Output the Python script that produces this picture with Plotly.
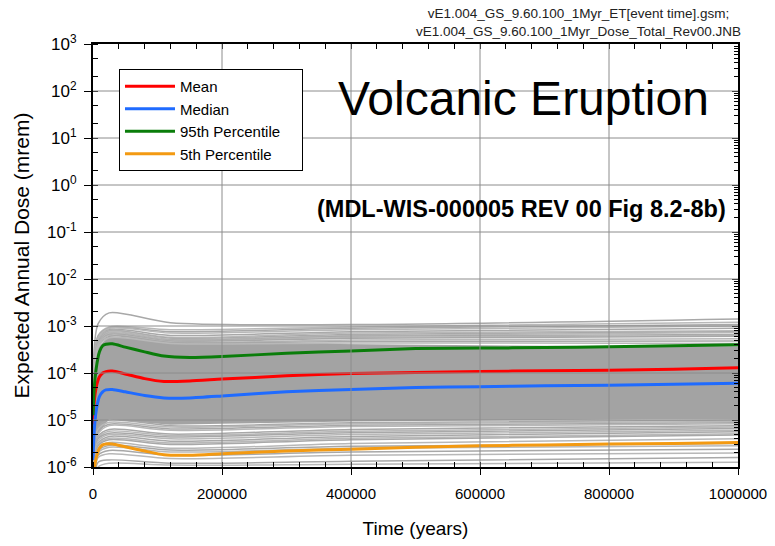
import plotly.graph_objects as go

# ---------------- data (log10 of dose in mrem) ----------------
T_PCT = [0, 2000, 5000, 10000, 15000, 20000, 30000, 50000, 80000, 110000, 150000,
         200000, 300000, 400000, 500000, 600000, 700000, 800000, 900000, 1000000]
MEAN_LOG = [-5.10, -4.60, -4.30, -4.08, -4.00, -3.97, -3.96, -4.02, -4.12, -4.18, -4.17,
            -4.13, -4.06, -4.01, -3.99, -3.97, -3.95, -3.94, -3.92, -3.89]
MEDIAN_LOG = [-5.85, -5.20, -4.80, -4.50, -4.40, -4.36, -4.35, -4.40, -4.48, -4.53, -4.53,
              -4.49, -4.40, -4.35, -4.31, -4.29, -4.27, -4.26, -4.24, -4.22]
P95_LOG = [-4.90, -4.30, -3.90, -3.55, -3.42, -3.39, -3.38, -3.45, -3.55, -3.64, -3.67,
           -3.65, -3.58, -3.53, -3.48, -3.47, -3.46, -3.44, -3.42, -3.40]
P05_LOG = [-6.40, -6.05, -5.80, -5.60, -5.53, -5.51, -5.51, -5.57, -5.66, -5.74, -5.75,
           -5.72, -5.66, -5.62, -5.58, -5.55, -5.53, -5.51, -5.50, -5.48]

# dense core of the realizations (upper / lower edge)
T_BAND = [0, 3000, 8000, 25000, 60000, 120000, 200000, 400000, 700000, 1000000]
BAND_TOP_LOG = [-4.95, -3.90, -3.45, -3.22, -3.25, -3.36, -3.36, -3.39, -3.42, -3.43]
BAND_BOT_LOG = [-6.30, -5.90, -5.30, -4.98, -5.03, -5.10, -5.08, -5.03, -5.00, -4.98]

# individual realizations outside the dense core
T_REAL = [0, 8000, 25000, 120000, 400000, 1000000]
REAL_LOG = [
    [-4.00, -2.95, -2.72, -2.93, -2.97, -2.85],
    [-4.20, -3.20, -3.02, -3.08, -3.02, -2.92],
    [-4.25, -3.22, -3.04, -3.12, -3.05, -2.97],
    [-4.30, -3.25, -3.05, -3.15, -3.08, -3.00],
    [-4.30, -3.30, -3.08, -3.20, -3.12, -3.05],
    [-4.40, -3.30, -3.10, -3.24, -3.15, -3.10],
    [-4.40, -3.33, -3.11, -3.26, -3.18, -3.12],
    [-4.40, -3.35, -3.12, -3.28, -3.20, -3.14],
    [-4.50, -3.35, -3.15, -3.30, -3.22, -3.18],
    [-4.50, -3.38, -3.16, -3.31, -3.24, -3.20],
    [-4.50, -3.40, -3.18, -3.32, -3.26, -3.22],
    [-4.50, -3.40, -3.20, -3.34, -3.30, -3.27],
    [-4.60, -3.45, -3.22, -3.35, -3.33, -3.32],
    [-4.60, -3.45, -3.25, -3.37, -3.36, -3.37],
    [-6.00, -5.15, -5.00, -5.12, -5.06, -5.00],
    [-6.00, -5.20, -5.05, -5.15, -5.08, -5.03],
    [-6.10, -5.25, -5.09, -5.19, -5.11, -5.06],
    [-6.10, -5.30, -5.12, -5.22, -5.14, -5.08],
    [-6.10, -5.35, -5.20, -5.30, -5.20, -5.12],
    [-6.20, -5.38, -5.24, -5.33, -5.24, -5.15],
    [-6.20, -5.40, -5.28, -5.36, -5.27, -5.18],
    [-6.20, -5.45, -5.31, -5.40, -5.31, -5.22],
    [-6.20, -5.50, -5.35, -5.45, -5.35, -5.25],
    [-6.30, -5.52, -5.39, -5.49, -5.39, -5.29],
    [-6.30, -5.55, -5.42, -5.52, -5.42, -5.32],
    [-6.30, -5.60, -5.48, -5.60, -5.50, -5.40],
    [-6.40, -5.66, -5.54, -5.64, -5.56, -5.50],
    [-6.40, -5.70, -5.58, -5.68, -5.60, -5.55],
    [-6.40, -5.75, -5.65, -5.75, -5.68, -5.62],
    [-6.50, -5.80, -5.72, -5.82, -5.75, -5.70],
    [-6.50, -5.90, -5.85, -5.92, -5.88, -5.80],
    [-6.60, -6.00, -5.92, -5.96, -5.94, -5.90],
]
REAL_SHADE = ["#a8a8a8", "#b8b8b8"]

X_TICKS = [0, 200000, 400000, 600000, 800000, 1000000]
Y_EXP = [-6, -5, -4, -3, -2, -1, 0, 1, 2, 3]
GRID_X = [200000, 400000, 600000, 800000]
GRID_Y_EXP = [-5, -4, -3, -2, -1, 0, 1, 2]

SERIES = [
    ("Mean", MEAN_LOG, "#ff0000"),
    ("Median", MEDIAN_LOG, "#1f6bff"),
    ("95th Percentile\u00a0\u00a0\u00a0\u00a0", P95_LOG, "#0a7d0a"),
    ("5th Percentile", P05_LOG, "#f39a12"),
]

FONT = "Arial, 'Liberation Sans', sans-serif"


def lin(vals):
    return [10 ** v for v in vals]


fig = go.Figure()

# dense grey core
fig.add_trace(go.Scatter(
    x=T_BAND + T_BAND[::-1],
    y=lin(BAND_TOP_LOG) + lin(BAND_BOT_LOG)[::-1],
    fill="toself", fillcolor="#a3a3a3", line=dict(width=0),
    mode="lines", showlegend=False, hoverinfo="skip"))

for i, row in enumerate(REAL_LOG):
    fig.add_trace(go.Scatter(
        x=T_REAL, y=lin(row), mode="lines",
        line=dict(color=REAL_SHADE[i % 2], width=1.5, shape="spline", smoothing=0.8),
        showlegend=False, hoverinfo="skip"))

for name, vals, color in SERIES:
    fig.add_trace(go.Scatter(
        x=T_PCT, y=lin(vals), mode="lines", name=name,
        line=dict(color=color, width=3, shape="spline", smoothing=0.6)))

# dummy trace for the mirrored tick axes
fig.add_trace(go.Scatter(x=[None], y=[None], xaxis="x2", yaxis="y2",
                         showlegend=False, hoverinfo="skip"))

shapes = []
for gx in GRID_X:
    shapes.append(dict(type="line", xref="x", yref="paper", x0=gx, x1=gx, y0=0, y1=1,
                       line=dict(color="#8c8c8c", width=1), layer="above"))
for ge in GRID_Y_EXP:
    shapes.append(dict(type="line", xref="paper", yref="y", x0=0, x1=1,
                       y0=10 ** ge, y1=10 ** ge,
                       line=dict(color="#8c8c8c", width=1), layer="above"))

fig.update_layout(
    width=775, height=546,
    margin=dict(l=93, r=37, t=44, b=79),
    paper_bgcolor="white", plot_bgcolor="white",
    font=dict(family=FONT, color="black"),
    shapes=shapes,
    xaxis=dict(
        range=[0, 1000000], tickvals=X_TICKS, tickformat="d", automargin=False,
        ticks="outside", ticklen=6, tickwidth=1, tickcolor="black",
        minor=dict(dtick=40000, tick0=0, ticks="inside", ticklen=5, tickcolor="black", showgrid=False),
        showline=True, linecolor="black", linewidth=2, mirror=True,
        showgrid=False, zeroline=False,
        tickfont=dict(size=15), ticklabelstandoff=6,
        title=dict(text="Time (years)", font=dict(size=19), standoff=21),
    ),
    yaxis=dict(
        type="log", range=[-6, 3], automargin=False,
        tickvals=[10 ** e for e in Y_EXP],
        ticktext=["10<sup>%d</sup>" % e for e in Y_EXP],
        ticks="outside", ticklen=7, tickwidth=1, tickcolor="black",
        minor=dict(ticks="inside", ticklen=5, tickcolor="black", showgrid=False),
        showline=True, linecolor="black", linewidth=2, mirror=True,
        showgrid=False, zeroline=False,
        tickfont=dict(size=17), ticklabelstandoff=4,
        title=dict(text="Expected Annual Dose (mrem)", font=dict(size=21), standoff=12),
    ),
    xaxis2=dict(
        overlaying="x", side="top", anchor="y", range=[0, 1000000], automargin=False,
        dtick=40000, tick0=0, ticks="inside", ticklen=5, tickcolor="black",
        showticklabels=False, showgrid=False, zeroline=False, showline=False,
    ),
    yaxis2=dict(
        overlaying="y", side="right", anchor="x", type="log", range=[-6, 3], dtick=1,
        automargin=False,
        ticks="inside", ticklen=6, tickcolor="black",
        minor=dict(ticks="inside", ticklen=4, tickcolor="black", showgrid=False),
        showticklabels=False, showgrid=False, zeroline=False, showline=False,
    ),
    legend=dict(
        x=0.0403, y=0.941, xanchor="left", yanchor="top",
        bgcolor="white", bordercolor="black", borderwidth=1,
        font=dict(size=15), itemwidth=50, tracegroupgap=0,
    ),
    annotations=[
        dict(text="Volcanic Eruption", xref="paper", yref="paper", x=0.668, y=0.872,
             xanchor="center", yanchor="middle", showarrow=False,
             font=dict(size=48, family=FONT)),
        dict(text="<b>(MDL-WIS-000005 REV 00 Fig 8.2-8b)</b>", xref="paper", yref="paper",
             x=0.665, y=0.61, xanchor="center", yanchor="middle", showarrow=False,
             font=dict(size=23.5, family=FONT)),
        dict(text="vE1.004_GS_9.60.100_1Myr_ET[event time].gsm;<br>vE1.004_GS_9.60.100_1Myr_Dose_Total_Rev00.JNB",
             xref="paper", yref="paper", x=0.752, y=1.094, xanchor="center", yanchor="top",
             align="center", showarrow=False, font=dict(size=13.5, family=FONT, color="#222")),
    ],
)

fig.write_html("out.html")
